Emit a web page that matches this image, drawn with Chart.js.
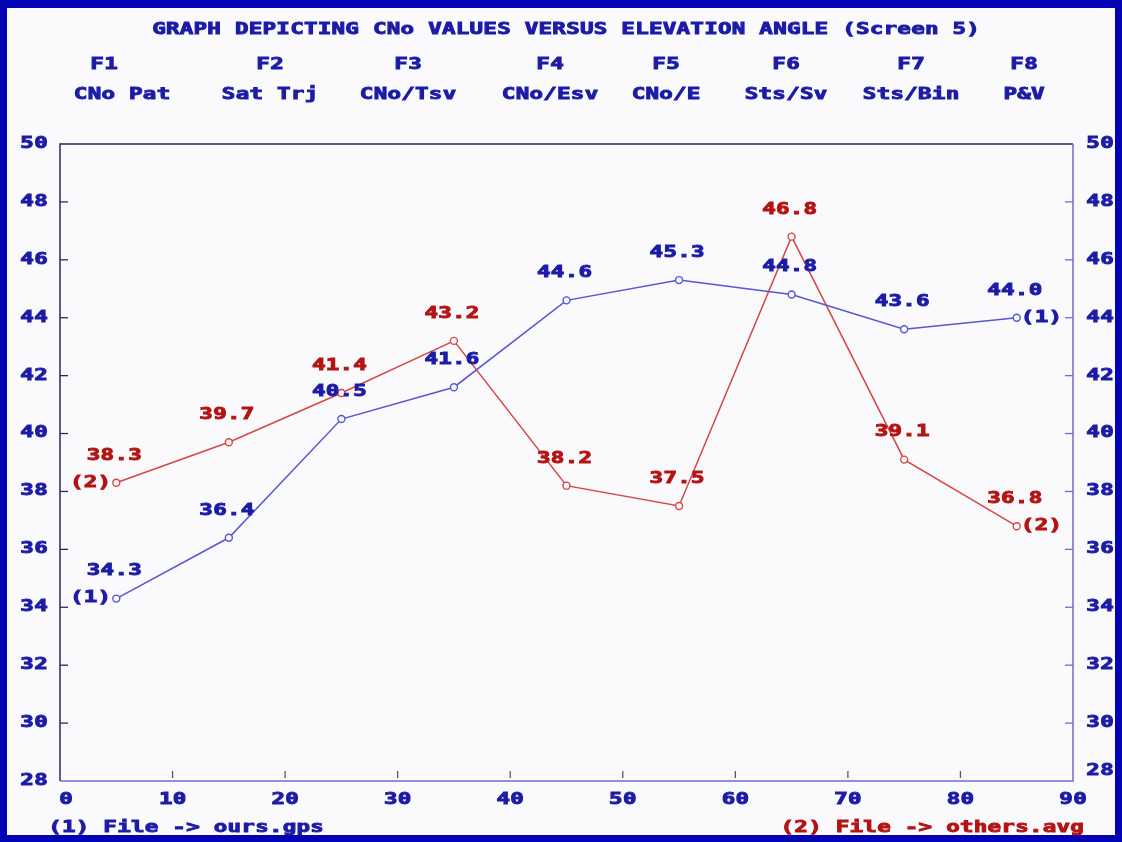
<!DOCTYPE html>
<html>
<head>
<meta charset="utf-8">
<script src="https://cdn.jsdelivr.net/npm/chart.js@4.4.1/dist/chart.umd.min.js"></script>
<style>
html, body { margin: 0; padding: 0; background: #fafafd; }
#wrap { width: 1122px; height: 842px; }
</style>
</head>
<body>
<div id="wrap"><canvas id="myChart" width="1122" height="842"></canvas></div>
<script>
// elevation angle bins (x) and CNo values per file
const angles = [5, 15, 25, 35, 45, 55, 65, 75, 85];
const oursGps = [34.3, 36.4, 40.5, 41.6, 44.6, 45.3, 44.8, 43.6, 44.0];
const othersAvg = [38.3, 39.7, 41.4, 43.2, 38.2, 37.5, 46.8, 39.1, 36.8];

const xTicks = [0, 10, 20, 30, 40, 50, 60, 70, 80, 90];
const yTicks = [28, 30, 32, 34, 36, 38, 40, 42, 44, 46, 48, 50];

const title = 'GRAPH DEPICTING CNo VALUES VERSUS ELEVATION ANGLE (Screen 5)';
const fKeys = ['F1', 'F2', 'F3', 'F4', 'F5', 'F6', 'F7', 'F8'];
const fNames = ['CNo Pat', 'Sat Trj', 'CNo/Tsv', 'CNo/Esv', 'CNo/E', 'Sts/Sv', 'Sts/Bin', 'P&V'];
const fCenters = [122, 270, 408, 550, 666, 786, 911, 1024];

const legend1 = '(1) File -> ours.gps';
const legend2 = '(2) File -> others.avg';

const BLUE_TXT = '#1c1ca6';
const RED_TXT = '#b41414';
const BLUE_LINE = '#5656d6';
const RED_LINE = '#d64646';

// bitmap-like text: every glyph in a fixed wide cell
function mono(ctx, str, x, y, color, align) {
    const pitch = 13.8;
    const w = pitch * str.length;
    let x0 = x;
    if (align === 'center') x0 = x - w / 2;
    if (align === 'right') x0 = x - w;
    ctx.save();
    ctx.font = 'bold 15px "DejaVu Sans Mono"';
    ctx.fillStyle = color;
    ctx.strokeStyle = color;
    ctx.lineWidth = 0.9;
    ctx.textAlign = 'center';
    ctx.textBaseline = 'middle';
    for (let i = 0; i < str.length; i++) {
        ctx.save();
        ctx.translate(x0 + pitch * i + pitch / 2, y);
        ctx.scale(1.5, 1);
        ctx.fillText(str[i], 0, 0);
        ctx.strokeText(str[i], 0, 0);
        ctx.restore();
    }
    ctx.restore();
}

const screenPlugin = {
    id: 'screen',
    beforeDraw(chart) {
        const ctx = chart.ctx;
        ctx.save();
        ctx.fillStyle = '#fafafd';
        ctx.fillRect(0, 0, chart.width, chart.height);
        ctx.restore();
    },
    afterDraw(chart) {
        const ctx = chart.ctx;
        const xs = chart.scales.x;
        const ys = chart.scales.y;
        const a = chart.chartArea;

        // plot frame
        ctx.save();
        ctx.lineWidth = 1.5;
        ctx.strokeStyle = '#26266e';
        ctx.beginPath();
        ctx.moveTo(a.left, a.bottom);
        ctx.lineTo(a.left, a.top);
        ctx.lineTo(a.right, a.top);
        ctx.stroke();
        ctx.strokeStyle = '#6c6cd4';
        ctx.beginPath();
        ctx.moveTo(a.left, a.bottom);
        ctx.lineTo(a.right, a.bottom);
        ctx.lineTo(a.right, a.top);
        ctx.stroke();

        // inward tick marks
        ctx.lineWidth = 1.3;
        yTicks.forEach(v => {
            if (v === 28 || v === 50) return;
            const py = ys.getPixelForValue(v);
            ctx.strokeStyle = '#26266e';
            ctx.beginPath();
            ctx.moveTo(a.left, py);
            ctx.lineTo(a.left + 8, py);
            ctx.stroke();
            ctx.strokeStyle = '#6c6cd4';
            ctx.beginPath();
            ctx.moveTo(a.right, py);
            ctx.lineTo(a.right - 8, py);
            ctx.stroke();
        });
        ctx.strokeStyle = '#555577';
        xTicks.forEach(v => {
            if (v === 0 || v === 90) return;
            const px = xs.getPixelForValue(v);
            ctx.beginPath();
            ctx.moveTo(px, a.bottom - 3);
            ctx.lineTo(px, a.bottom - 10);
            ctx.stroke();
        });
        ctx.restore();

        // tick labels
        yTicks.forEach(v => {
            const py = ys.getPixelForValue(v);
            mono(ctx, String(v), 34, py, BLUE_TXT, 'center');
            mono(ctx, String(v), 1100, py - (v === 28 ? 10 : 0), BLUE_TXT, 'center');
        });
        xTicks.forEach(v => {
            const px = xs.getPixelForValue(v);
            mono(ctx, String(v), px + (v === 0 ? 6 : 0), 800, BLUE_TXT, 'center');
        });

        // header
        mono(ctx, title, 566, 30, BLUE_TXT, 'center');
        fKeys.forEach((k, i) => {
            mono(ctx, k, fCenters[i] - (i === 0 ? 18 : 0), 65, BLUE_TXT, 'center');
            mono(ctx, fNames[i], fCenters[i], 95, BLUE_TXT, 'center');
        });

        // value labels and file markers
        const sets = [
            { vals: oursGps, color: BLUE_TXT, tag: '(1)' },
            { vals: othersAvg, color: RED_TXT, tag: '(2)' }
        ];
        sets.forEach(s => {
            s.vals.forEach((v, i) => {
                const px = xs.getPixelForValue(angles[i]);
                const py = ys.getPixelForValue(v);
                mono(ctx, v.toFixed(1), px - 2, py - 27, s.color, 'center');
            });
            const n = s.vals.length - 1;
            const fx = xs.getPixelForValue(angles[0]);
            const fy = ys.getPixelForValue(s.vals[0]);
            mono(ctx, s.tag, fx - 5, fy, s.color, 'right');
            const lx = xs.getPixelForValue(angles[n]);
            const ly = ys.getPixelForValue(s.vals[n]);
            mono(ctx, s.tag, lx + 4, ly, s.color, 'left');
        });

        // file legend
        mono(ctx, legend1, 48, 828, BLUE_TXT, 'left');
        mono(ctx, legend2, 1084, 828, RED_TXT, 'right');

        // screen border
        ctx.save();
        ctx.strokeStyle = '#0404b4';
        ctx.lineWidth = 8;
        ctx.strokeRect(3, 4, chart.width - 6, chart.height - 7);
        ctx.restore();
    }
};

const data = {
    datasets: [{
        label: 'ours.gps',
        data: angles.map((x, i) => ({ x: x, y: oursGps[i] })),
        borderColor: BLUE_LINE,
        borderWidth: 1.5,
        pointRadius: 3.5,
        pointBorderWidth: 1.4,
        pointBorderColor: BLUE_LINE,
        pointBackgroundColor: '#fafafd',
        tension: 0
    }, {
        label: 'others.avg',
        data: angles.map((x, i) => ({ x: x, y: othersAvg[i] })),
        borderColor: RED_LINE,
        borderWidth: 1.5,
        pointRadius: 3.5,
        pointBorderWidth: 1.4,
        pointBorderColor: RED_LINE,
        pointBackgroundColor: '#fafafd',
        tension: 0
    }]
};

const config = {
    type: 'line',
    data: data,
    options: {
        responsive: false,
        animation: false,
        devicePixelRatio: 1,
        layout: { padding: { left: 60, right: 49, top: 144, bottom: 61 } },
        plugins: {
            legend: { display: false },
            tooltip: { enabled: false }
        },
        scales: {
            x: {
                type: 'linear',
                min: 0,
                max: 90,
                display: false
            },
            y: {
                min: 28,
                max: 50,
                display: false
            }
        }
    },
    plugins: [screenPlugin]
};

new Chart(document.getElementById('myChart'), config);
</script>
</body>
</html>
